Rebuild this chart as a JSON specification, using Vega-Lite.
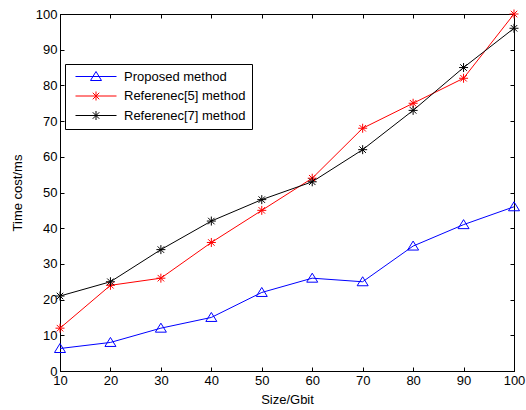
{
  "$schema": "https://vega.github.io/schema/vega-lite/v6.json",
  "width": 454,
  "height": 357,
  "autosize": {"type": "none"},
  "padding": {"left": 60, "top": 14, "right": 12, "bottom": 39},
  "background": "white",
  "config": {
    "view": {"stroke": "black", "strokeWidth": 1},
    "font": "Liberation Sans",
    "axis": {
      "grid": false,
      "domainColor": "black",
      "domainWidth": 1,
      "tickColor": "black",
      "tickWidth": 1,
      "tickSize": -4,
      "labelColor": "black",
      "titleColor": "black",
      "labelFont": "Liberation Sans",
      "titleFont": "Liberation Sans",
      "labelFontSize": 13,
      "titleFontSize": 13,
      "titleFontWeight": "normal",
      "labelFlush": false,
      "labelOverlap": false
    }
  },
  "data": {
    "values": [
      {"size": 10, "method": "Proposed method", "time": 6.3},
      {"size": 20, "method": "Proposed method", "time": 8},
      {"size": 30, "method": "Proposed method", "time": 12},
      {"size": 40, "method": "Proposed method", "time": 15},
      {"size": 50, "method": "Proposed method", "time": 22},
      {"size": 60, "method": "Proposed method", "time": 26},
      {"size": 70, "method": "Proposed method", "time": 25},
      {"size": 80, "method": "Proposed method", "time": 35},
      {"size": 90, "method": "Proposed method", "time": 41},
      {"size": 100, "method": "Proposed method", "time": 46},
      {"size": 10, "method": "Referenec[5] method", "time": 12},
      {"size": 20, "method": "Referenec[5] method", "time": 24},
      {"size": 30, "method": "Referenec[5] method", "time": 26},
      {"size": 40, "method": "Referenec[5] method", "time": 36},
      {"size": 50, "method": "Referenec[5] method", "time": 45},
      {"size": 60, "method": "Referenec[5] method", "time": 54},
      {"size": 70, "method": "Referenec[5] method", "time": 68},
      {"size": 80, "method": "Referenec[5] method", "time": 75},
      {"size": 90, "method": "Referenec[5] method", "time": 82},
      {"size": 100, "method": "Referenec[5] method", "time": 100},
      {"size": 10, "method": "Referenec[7] method", "time": 21},
      {"size": 20, "method": "Referenec[7] method", "time": 25},
      {"size": 30, "method": "Referenec[7] method", "time": 34},
      {"size": 40, "method": "Referenec[7] method", "time": 42},
      {"size": 50, "method": "Referenec[7] method", "time": 48},
      {"size": 60, "method": "Referenec[7] method", "time": 53},
      {"size": 70, "method": "Referenec[7] method", "time": 62},
      {"size": 80, "method": "Referenec[7] method", "time": 73},
      {"size": 90, "method": "Referenec[7] method", "time": 85},
      {"size": 100, "method": "Referenec[7] method", "time": 96}
    ]
  },
  "layer": [
    {
      "mark": {"type": "line", "strokeWidth": 1},
      "encoding": {
        "x": {
          "field": "size", "type": "quantitative",
          "scale": {"domain": [10, 100], "nice": false},
          "axis": {"orient": "bottom", "title": "Size/Gbit", "values": [10, 20, 30, 40, 50, 60, 70, 80, 90, 100], "labelPadding": 7, "titlePadding": 6}
        },
        "y": {
          "field": "time", "type": "quantitative",
          "scale": {"domain": [0, 100], "nice": false},
          "axis": {"orient": "left", "title": "Time cost/ms", "values": [0, 10, 20, 30, 40, 50, 60, 70, 80, 90, 100], "labelPadding": 7, "titlePadding": 11}
        },
        "color": {
          "field": "method", "type": "nominal",
          "scale": {"domain": ["Proposed method", "Referenec[5] method", "Referenec[7] method"], "range": ["#0000ff", "#ff0000", "#000000"]},
          "legend": {
            "title": null,
            "orient": "none",
            "legendX": 5,
            "legendY": 50,
            "strokeColor": "black",
            "fillColor": "white",
            "padding": 6,
            "labelFont": "Liberation Sans",
            "labelFontSize": 13,
            "labelColor": "black",
            "labelOffset": 40,
            "rowPadding": 5.5,
            "symbolStrokeWidth": 1,
            "symbolSize": 100,
            "encode": {
              "symbols": {
                "update": {
                  "shape": {"signal": "datum.value === 'Proposed method' ? 'M-0.4,0L7.8,0M3.7,-1L4.8,0.8L2.6,0.8Z' : 'M-0.4,0L7.8,0M3.7,-0.9L3.7,0.9M3.05,-0.65L4.35,0.65M3.05,0.65L4.35,-0.65'"},
                  "fill": {"value": "transparent"},
                  "size": {"value": 100}
                }
              }
            }
          }
        }
      }
    },
    {
      "transform": [{"filter": "datum.method === 'Proposed method'"}],
      "mark": {"type": "point", "filled": false, "size": 100, "strokeWidth": 1, "opacity": 1, "shape": "M0,-1L1.1,0.8L-1.1,0.8Z"},
      "encoding": {
        "x": {
          "field": "size", "type": "quantitative",
          "axis": {"orient": "top", "labels": false, "title": null, "values": [10, 20, 30, 40, 50, 60, 70, 80, 90, 100]}
        },
        "y": {
          "field": "time", "type": "quantitative",
          "axis": {"orient": "right", "labels": false, "title": null, "values": [0, 10, 20, 30, 40, 50, 60, 70, 80, 90, 100]}
        },
        "color": {"field": "method", "type": "nominal"}
      }
    },
    {
      "transform": [{"filter": "datum.method !== 'Proposed method'"}],
      "mark": {"type": "point", "filled": false, "size": 100, "strokeWidth": 1, "opacity": 1, "shape": "M0,-0.9L0,0.9M-0.9,0L0.9,0M-0.65,-0.65L0.65,0.65M-0.65,0.65L0.65,-0.65"},
      "encoding": {
        "x": {"field": "size", "type": "quantitative", "axis": null},
        "y": {"field": "time", "type": "quantitative", "axis": null},
        "color": {"field": "method", "type": "nominal"}
      }
    }
  ]
}
